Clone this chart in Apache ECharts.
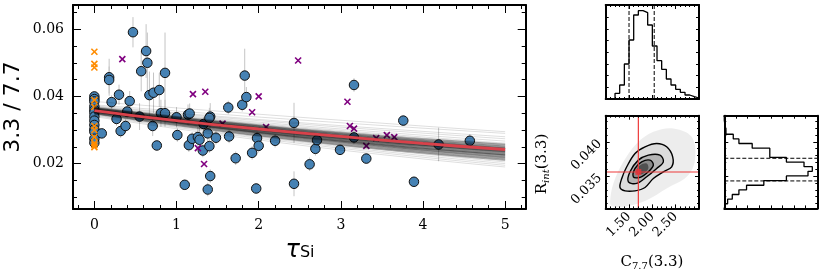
<!DOCTYPE html>
<html><head><meta charset="utf-8">
<script src="https://cdn.jsdelivr.net/npm/echarts@6/dist/echarts.min.js"></script>
<style>html,body{margin:0;padding:0;background:#fff}#c{width:830px;height:277px}</style>
</head><body><div id="c"></div>
<script>
// ---------------- data ----------------
const blueTau = [0,0,0,0,0,0,0,0,0,0,0,0,0,
  0.09,0.18,0.18,0.21,0.27,0.30,0.32,0.38,0.40,0.43,0.47,0.55,0.57,0.63,0.645,0.67,0.72,0.79,0.71,0.76,0.81,0.86,0.86,
  1.00,1.01,1.10,1.14,1.16,1.15,1.19,1.26,1.28,1.32,1.33,1.38,1.38,1.40,1.41,1.41,1.40,1.48,1.63,1.64,1.72,1.80,1.83,1.85,1.92,1.97,1.98,2.00,
  2.20,2.43,2.43,2.62,2.69,2.71,2.99,3.16,3.16,3.31,3.76,3.89,4.19,4.57];
const blueRatio = [0.0400,0.0392,0.0385,0.0370,0.0360,0.0352,0.0340,0.0328,0.0315,0.0302,0.0295,0.0274,0.0262,
  0.0290,0.0457,0.0449,0.0383,0.0333,0.0405,0.0297,0.0312,0.0355,0.0386,0.0591,0.0340,0.0475,0.0535,0.0500,0.0404,0.0411,0.0419,0.0312,0.0254,0.0350,0.0350,0.0470,
  0.0338,0.0285,0.0137,0.0346,0.0349,0.0255,0.0274,0.0279,0.0271,0.0239,0.0318,0.0290,0.0123,0.0252,0.0163,0.0340,0.0336,0.0277,0.0367,0.0281,0.0216,0.0375,0.0462,0.0398,0.0232,0.0126,0.0276,0.0253,
  0.0268,0.0321,0.0140,0.0198,0.0244,0.0270,0.0241,0.0434,0.0278,0.0215,0.0328,0.0146,0.0257,0.0268];
const blueErr = [0.0015,0.001,0.001,0.001,0.001,0.001,0.001,0.001,0.001,0.001,0.001,0.001,0.001,
  0.001,0.0055,0.004,0.002,0.002,0.003,0.002,0.002,0.002,0.003,0.0045,0.004,0.006,0.008,0.009,0.007,0.006,0.005,0.003,0.0015,0.004,0.004,0.012,
  0.003,0.002,0.0015,0.003,0.003,0.002,0.002,0.003,0.004,0.002,0.002,0.003,0.002,0.002,0.002,0.004,0.003,0.002,0.002,0.002,0.002,0.002,0.008,0.003,0.002,0.0015,0.002,0.002,
  0.002,0.006,0.0037,0.002,0.002,0.002,0.0015,0.002,0.002,0.0015,0.0015,0.0015,0.005,0.002];
const orangeTau = [0,0,0,0,0,0,0,0,0,0,0];
const orangeRatio = [0.0533,0.0497,0.0486,0.0389,0.0369,0.0312,0.0300,0.0279,0.0261,0.0255,0.0249];
const purpleTau = [0.34,1.20,1.35,2.00,1.92,2.09,1.56,1.26,1.335,2.48,3.08,3.11,3.16,3.31,3.43,3.56,3.65];
const purpleRatio = [0.0511,0.0407,0.0414,0.0400,0.0353,0.0309,0.0319,0.0246,0.0199,0.0507,0.0384,0.0312,0.0304,0.0253,0.0276,0.0285,0.0279];
const fitTau = [0,1,2,3,4,5];
const fitRatio = [0.0358,0.0328,0.0303,0.0281,0.0260,0.0242];
const postTau = [0,2.5,5];
// faint outer posterior draws
const postRatios = [
  [0.0385,0.0338,0.0295],[0.0375,0.0330,0.0290],[0.0372,0.0322,0.0280],[0.0370,0.0318,0.0274],[0.0368,0.0313,0.0267],
  [0.0366,0.0309,0.0261],[0.0365,0.0306,0.0257],[0.0363,0.0302,0.0252],[0.0362,0.0299,0.0248],[0.0361,0.0297,0.0245],
  [0.0360,0.0295,0.0242],[0.0359,0.0292,0.0238],[0.0358,0.0290,0.0235],[0.0357,0.0288,0.0232],[0.0356,0.0286,0.0229],
  [0.0355,0.0284,0.0226],[0.0354,0.0282,0.0223],[0.0353,0.0279,0.0220],[0.0352,0.0277,0.0217],[0.0350,0.0274,0.0213],
  [0.0349,0.0271,0.0209],[0.0347,0.0268,0.0205],[0.0345,0.0264,0.0200],[0.0343,0.0260,0.0195],[0.0340,0.0255,0.0190],
  [0.0364,0.0296,0.0240],[0.0358,0.0294,0.0244],[0.0352,0.0283,0.0230],[0.0361,0.0291,0.0233],[0.0356,0.0290,0.0238],
  [0.0350,0.0280,0.0226],[0.0366,0.0300,0.0246],[0.0354,0.0287,0.0236],[0.0360,0.0293,0.0239],[0.0348,0.0276,0.0219]
];
// dense core posterior draws
const postCoreRatios = [
  [0.0368,0.0303,0.0258],[0.0366,0.0301,0.0255],[0.0365,0.0299,0.0252],[0.0364,0.0297,0.0250],[0.0363,0.0295,0.0247],
  [0.0362,0.0293,0.0244],[0.0361,0.0291,0.0241],[0.0360,0.0289,0.0238],[0.0359,0.0287,0.0235],[0.0358,0.0285,0.0232],
  [0.0357,0.0283,0.0229],[0.0356,0.0281,0.0226],[0.0355,0.0279,0.0223],[0.0354,0.0277,0.0220],[0.0352,0.0274,0.0217],
  [0.0350,0.0271,0.0214],[0.0348,0.0268,0.0211],[0.0361,0.0294,0.0246],[0.0357,0.0286,0.0236],[0.0353,0.0279,0.0226]
];
const mainXTicks = [0,1,2,3,4,5];
const mainXMinor = [-0.2,0.2,0.4,0.6,0.8,1.2,1.4,1.6,1.8,2.2,2.4,2.6,2.8,3.2,3.4,3.6,3.8,4.2,4.4,4.6,4.8,5.2];
const mainYTicks = [0.02,0.04,0.06];
const mainYMinor = [0.01,0.015,0.025,0.03,0.035,0.045,0.05,0.055,0.065];

// corner plot
const cHistCounts = [0,2,17,42,105,177,252,265,259,222,159,115,89,60,42,29,20,12,7,3];
const rHistCounts = [3,10,24,44,67,119,187,252,265,240,187,137,137,84,44,27,5,2,0,0];
const cQuantiles = [1.50,2.04];
const rQuantiles = [0.0343,0.0376];
const cTruth = 1.70, rTruth = 0.0356;
const cTicks = [1.5,2.0,2.5];
const cMinor = [1.1,1.2,1.3,1.4,1.6,1.7,1.8,1.9,2.1,2.2,2.3,2.4,2.6,2.7,2.8,2.9];
const rTicks = [0.035,0.040];
const rMinor = [0.031,0.032,0.033,0.034,0.036,0.037,0.038,0.039,0.041,0.042,0.043];
const countTicks = [35,70,105,140,175,210,245];
const cloudPoly = [[1.093,0.03126],[1.164,0.03394],[1.378,0.03708],[1.664,0.03976],[2.021,0.04145],[2.45,0.04195],[2.843,0.04072],[2.914,0.03733],[2.736,0.0349],[2.307,0.03321],[1.879,0.0315],[1.451,0.03063],[1.129,0.03063]];
const contour1 = [[1.307,0.03335],[1.344,0.03466],[1.451,0.03636],[1.629,0.0383],[1.843,0.03927],[2.093,0.03976],[2.307,0.03927],[2.436,0.03781],[2.415,0.03636],[2.236,0.03563],[2.021,0.03466],[1.843,0.03335],[1.629,0.03286],[1.414,0.03286]];
const contour2 = [[1.486,0.03417],[1.521,0.03563],[1.70,0.03733],[1.914,0.03806],[2.164,0.03806],[2.236,0.03708],[2.093,0.03612],[1.879,0.0349],[1.664,0.03394]];
const contour3 = [[1.593,0.0349],[1.629,0.03612],[1.771,0.03708],[1.95,0.03733],[2.021,0.0366],[1.914,0.03563],[1.736,0.03481]];
const contour4 = [[1.65,0.03563],[1.736,0.0366],[1.879,0.03685],[1.914,0.03612],[1.807,0.03539],[1.70,0.03529]];

// ---------------- layout helpers ----------------
const SERIF = '"DejaVu Serif", serif';
const grids = [], xAxes = [], yAxes = [];
function mkAxis(c, s, dim, gi) {
  const ticks = s.major ? c.major : c.minor;
  return {
    type: 'value', gridIndex: gi, position: dim === 'x' ? s.xpos : s.ypos,
    min: c.min, max: c.max, splitLine: {show: false}, z: 10,
    axisLine: {show: !!s.line, onZero: false, lineStyle: {color: '#000', width: c.lw}},
    axisTick: {show: ticks.length > 0, inside: true, customValues: ticks.length ? ticks : [c.min],
      length: s.major ? c.tl : c.tl / 2, lineStyle: {color: '#000', width: 1}},
    axisLabel: Object.assign({show: !!(s.labels && c.labels), customValues: c.labels || [c.min], formatter: c.fmt,
      color: '#000', fontFamily: SERIF}, c.ls || {})
  };
}
function addPanel(rect, xc, yc) {
  const base = grids.length;
  const specs = [
    {xpos: 'bottom', ypos: 'left', major: true, labels: true, line: true},
    {xpos: 'bottom', ypos: 'left', major: false},
    {xpos: 'top', ypos: 'right', major: true, line: true},
    {xpos: 'top', ypos: 'right', major: false}
  ];
  specs.forEach(s => {
    grids.push(Object.assign({}, rect));
    const gi = grids.length - 1;
    xAxes.push(mkAxis(xc, s, 'x', gi));
    yAxes.push(mkAxis(yc, s, 'y', gi));
  });
  return base;
}

const M = addPanel({left: 73, top: 5, width: 452.7, height: 204},
  {min: -0.26, max: 5.25, major: mainXTicks, minor: mainXMinor, labels: mainXTicks, fmt: v => String(v), tl: 8, lw: 2,
   ls: {fontSize: 14, margin: 9}},
  {min: 0.0065, max: 0.0672, major: mainYTicks, minor: mainYMinor, labels: mainYTicks, fmt: v => v.toFixed(2), tl: 8, lw: 2,
   ls: {fontSize: 14, margin: 9}});
const H1 = addPanel({left: 605.7, top: 5, width: 93.3, height: 94},
  {min: 1.0, max: 3.0, major: cTicks, minor: cMinor, tl: 4, lw: 2},
  {min: 0, max: 282, major: countTicks, minor: [], tl: 3, lw: 2});
const P2 = addPanel({left: 605.7, top: 115.7, width: 93.3, height: 92.7},
  {min: 1.0, max: 3.0, major: cTicks, minor: cMinor, labels: cTicks, fmt: v => v.toFixed(2), tl: 4, lw: 2,
   ls: {fontSize: 13, rotate: 45, margin: 6}},
  {min: 0.0303, max: 0.0438, major: rTicks, minor: rMinor, labels: rTicks, fmt: v => v.toFixed(3), tl: 4, lw: 2,
   ls: {fontSize: 13, rotate: 45, margin: 6}});
const H2 = addPanel({left: 724.3, top: 115.7, width: 93, height: 92.7},
  {min: 0, max: 280, major: countTicks, minor: [], tl: 3, lw: 2},
  {min: 0.0303, max: 0.0438, major: rTicks, minor: rMinor, tl: 4, lw: 2});

// ---------------- series ----------------
const series = [];
series.push({
  type: 'custom', xAxisIndex: M, yAxisIndex: M, z: 1,
  data: blueTau.map((t, i) => [t, blueRatio[i] - blueErr[i], blueRatio[i] + blueErr[i]]),
  renderItem: (p, api) => {
    const a = api.coord([api.value(0), api.value(1)]), b = api.coord([api.value(0), api.value(2)]);
    return {type: 'line', shape: {x1: a[0], y1: a[1], x2: b[0], y2: b[1]}, style: {stroke: '#c4c4c4', lineWidth: 1}};
  }
});
series.push({
  type: 'scatter', xAxisIndex: M, yAxisIndex: M, z: 2, symbol: 'circle', symbolSize: 9.5,
  data: blueTau.map((t, i) => [t, blueRatio[i]]),
  itemStyle: {color: '#4682b4', borderColor: '#111', borderWidth: 1, opacity: 1}
});
function crossSeries(xs, ys, color, z) {
  return {
    type: 'custom', xAxisIndex: M, yAxisIndex: M, z: z,
    data: xs.map((t, i) => [t, ys[i]]),
    renderItem: (p, api) => {
      const c = api.coord([api.value(0), api.value(1)]), h = 3;
      return {type: 'group', children: [
        {type: 'line', shape: {x1: c[0] - h, y1: c[1] - h, x2: c[0] + h, y2: c[1] + h}, style: {stroke: color, lineWidth: 1.6}},
        {type: 'line', shape: {x1: c[0] - h, y1: c[1] + h, x2: c[0] + h, y2: c[1] - h}, style: {stroke: color, lineWidth: 1.6}}
      ]};
    }
  };
}
series.push(crossSeries(purpleTau, purpleRatio, '#800080', 3));
series.push(crossSeries(orangeTau, orangeRatio, '#ff8c00', 3));
postRatios.forEach(r => series.push({
  type: 'line', xAxisIndex: M, yAxisIndex: M, z: 4, showSymbol: false, silent: true, smooth: 0.5,
  data: postTau.map((t, i) => [t, r[i]]), lineStyle: {color: 'rgba(0,0,0,0.13)', width: 1}
}));
postCoreRatios.forEach(r => series.push({
  type: 'line', xAxisIndex: M, yAxisIndex: M, z: 4, showSymbol: false, silent: true, smooth: 0.5,
  data: postTau.map((t, i) => [t, r[i]]), lineStyle: {color: 'rgba(0,0,0,0.28)', width: 1.4}
}));
series.push({
  type: 'line', xAxisIndex: M, yAxisIndex: M, z: 5, showSymbol: false, smooth: 0.4,
  data: fitTau.map((t, i) => [t, fitRatio[i]]), lineStyle: {color: '#d9414a', width: 2.8}
});

function stepPoints(counts, lo, hi, horizontal) {
  const w = (hi - lo) / counts.length, pts = [];
  const P = (v, c) => horizontal ? [c, v] : [v, c];
  pts.push(P(lo, 0));
  counts.forEach((c, i) => { pts.push(P(lo + i * w, c)); pts.push(P(lo + (i + 1) * w, c)); });
  pts.push(P(hi, 0));
  return pts;
}
series.push({type: 'line', xAxisIndex: H1, yAxisIndex: H1, showSymbol: false, data: stepPoints(cHistCounts, 1.0, 3.0, false),
  lineStyle: {color: '#000', width: 1.3}});
cQuantiles.forEach(q => series.push({type: 'line', xAxisIndex: H1, yAxisIndex: H1, showSymbol: false,
  data: [[q, 0], [q, 282]], lineStyle: {color: '#000', width: 1, type: [4, 2]}}));
series.push({type: 'line', xAxisIndex: H2, yAxisIndex: H2, showSymbol: false, data: stepPoints(rHistCounts, 0.0303, 0.0438, true),
  lineStyle: {color: '#000', width: 1.3}});
rQuantiles.forEach(q => series.push({type: 'line', xAxisIndex: H2, yAxisIndex: H2, showSymbol: false,
  data: [[0, q], [280, q]], lineStyle: {color: '#000', width: 1, type: [4, 2]}}));
function polySeries(poly, fill, stroke, lw, z) {
  return {
    type: 'custom', xAxisIndex: P2, yAxisIndex: P2, z: z, data: [0],
    renderItem: (p, api) => ({type: 'polygon', shape: {points: poly.map(pt => api.coord(pt)), smooth: 0.35},
      style: {fill: fill, stroke: stroke, lineWidth: lw}})
  };
}
series.push(polySeries(cloudPoly, 'rgba(0,0,0,0.07)', null, 0, 1));
series.push(polySeries(contour1, '#dcdcdc', '#000', 1.4, 2));
series.push(polySeries(contour2, '#b4b4b4', '#000', 1.4, 3));
series.push(polySeries(contour3, '#8a8a8a', '#000', 1.4, 4));
series.push(polySeries(contour4, '#505050', null, 0, 5));
series.push({type: 'line', xAxisIndex: P2, yAxisIndex: P2, z: 6, showSymbol: false,
  data: [[cTruth, 0.0303], [cTruth, 0.0438]], lineStyle: {color: '#ee3a3a', width: 1.2}});
series.push({type: 'line', xAxisIndex: P2, yAxisIndex: P2, z: 6, showSymbol: false,
  data: [[1.0, rTruth], [3.0, rTruth]], lineStyle: {color: '#ee3a3a', width: 1.2}});
series.push({type: 'scatter', xAxisIndex: P2, yAxisIndex: P2, z: 7, symbol: 'rect', symbolSize: 6,
  data: [[cTruth, rTruth]], itemStyle: {color: '#e8343c'}});

const option = {
  animation: false,
  backgroundColor: '#fff',
  grid: grids, xAxis: xAxes, yAxis: yAxes, series: series,
  graphic: [
    {type: 'text', x: 13, y: 107, rotation: Math.PI / 2,
     style: {text: '3.3 / 7.7', font: '22px "DejaVu Sans"', fill: '#000', align: 'center', verticalAlign: 'middle'}},
    {type: 'text', x: 300, y: 250,
     style: {text: '{t|τ}{s|Si}', align: 'center', verticalAlign: 'middle',
       rich: {t: {fontFamily: 'DejaVu Sans', fontStyle: 'italic', fontSize: 24, lineHeight: 22, verticalAlign: 'top', fill: '#000'},
              s: {fontFamily: 'DejaVu Sans', fontSize: 16, lineHeight: 14, padding: [12, 0, 0, 0], verticalAlign: 'bottom', fill: '#000'}}}},
    {type: 'text', x: 543, y: 164, rotation: Math.PI / 2,
     style: {text: '{a|R}{s|int}{a|(3.3)}', align: 'center', verticalAlign: 'middle',
       rich: {a: {fontFamily: 'DejaVu Serif', fontSize: 15, lineHeight: 16, verticalAlign: 'top', fill: '#000'},
              s: {fontFamily: 'DejaVu Serif', fontStyle: 'italic', fontSize: 10, lineHeight: 10, padding: [10, 0, 0, 0], verticalAlign: 'bottom', fill: '#000'}}}},
    {type: 'text', x: 652, y: 263,
     style: {text: '{a|C}{s|7.7}{a|(3.3)}', align: 'center', verticalAlign: 'middle',
       rich: {a: {fontFamily: 'DejaVu Serif', fontSize: 15, lineHeight: 16, verticalAlign: 'top', fill: '#000'},
              s: {fontFamily: 'DejaVu Serif', fontSize: 10, lineHeight: 10, padding: [10, 0, 0, 0], verticalAlign: 'bottom', fill: '#000'}}}}
  ]
};
const chart = echarts.init(document.getElementById('c'), null, {width: 830, height: 277});
chart.setOption(option);
</script>
</body></html>
